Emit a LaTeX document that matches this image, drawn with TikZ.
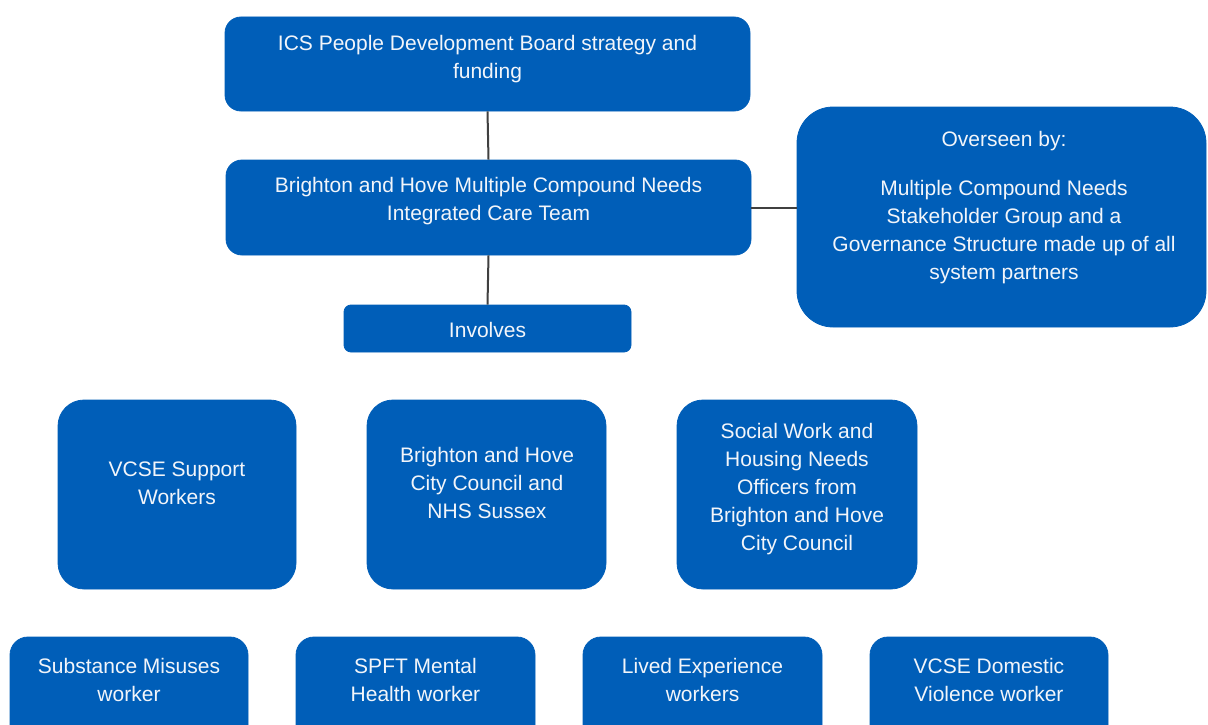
\documentclass[tikz,border=0pt]{standalone}
\usepackage{fontspec}
\setmainfont{Liberation Sans}
\definecolor{nhsblue}{HTML}{005EB8}
\definecolor{conncol}{HTML}{404040}
\definecolor{txtcol}{HTML}{F2F5FA}
\tikzset{
  box/.style={fill=nhsblue, draw=nhsblue, inner sep=0pt, line width=0.8pt},
  lbl/.style={text=txtcol, align=center, inner sep=0pt, font=\fontsize{21pt}{28pt}\selectfont},
  conn/.style={draw=conncol, line width=2pt}
}
\begin{document}
\begin{tikzpicture}[x=1pt,y=-1pt]
\clip (0,0) rectangle (1208,725);
\fill[white] (0,0) rectangle (1208,725);
% top column
\node[box, rounded corners=16pt, minimum width=525pt, minimum height=94pt] (top) at (487.5,64) {};
\node[box, rounded corners=16pt, minimum width=525pt, minimum height=95pt] (team) at (488.5,207.5) {};
\node[box, rounded corners=7pt, minimum width=287pt, minimum height=47pt] (inv) at (487.5,328.5) {};
\node[box, rounded corners=36pt, minimum width=409pt, minimum height=220pt] (over) at (1001.5,217) {};
% row 1
\node[box, rounded corners=26pt, minimum width=238pt, minimum height=189pt] (vcse) at (177,494.5) {};
\node[box, rounded corners=26pt, minimum width=239pt, minimum height=189pt] (bhcc) at (486.5,494.5) {};
\node[box, rounded corners=26pt, minimum width=240pt, minimum height=189pt] (swh) at (797,494.5) {};
% row 2 (cut by the lower edge)
\node[box, rounded corners=18pt, minimum width=238pt, minimum height=120pt] (sub) at (129,697) {};
\node[box, rounded corners=18pt, minimum width=239pt, minimum height=120pt] (spft) at (415.5,697) {};
\node[box, rounded corners=18pt, minimum width=239pt, minimum height=120pt] (lived) at (702.5,697) {};
\node[box, rounded corners=18pt, minimum width=238pt, minimum height=120pt] (dv) at (989,697) {};
% connectors
\draw[conn] (top.south) -- (team.north);
\draw[conn] (team.south) -- (inv.north);
\draw[conn] (team.east) -- (team.east -| over.west);
% labels
\node[lbl] (ttop) at (487.5,59) {ICS People Development Board strategy and\\funding};
\node[lbl] (tteam) at (488.5,201.5) {Brighton and Hove Multiple Compound Needs\\Integrated Care Team};
\node[lbl] (tinv) at (487.5,330) {Involves};
\node[lbl] (tover) at (1004,208) {Overseen by:\\[21pt]Multiple Compound Needs\\Stakeholder Group and a\\Governance Structure made up of all\\system partners};
\node[lbl] (tvcse) at (177,483) {VCSE Support\\Workers};
\node[lbl] (tbhcc) at (487,483) {Brighton and Hove\\City Council and\\NHS Sussex};
\node[lbl] (tswh) at (797,489) {Social Work and\\Housing Needs\\Officers from\\Brighton and Hove\\City Council};
\node[lbl] (tsub) at (129,680) {Substance Misuses\\worker};
\node[lbl] (tspft) at (415.5,680) {SPFT Mental\\Health worker};
\node[lbl] (tlived) at (702.5,680) {Lived Experience\\workers};
\node[lbl] (tdv) at (989,680) {VCSE Domestic\\Violence worker};
\end{tikzpicture}
\end{document}
